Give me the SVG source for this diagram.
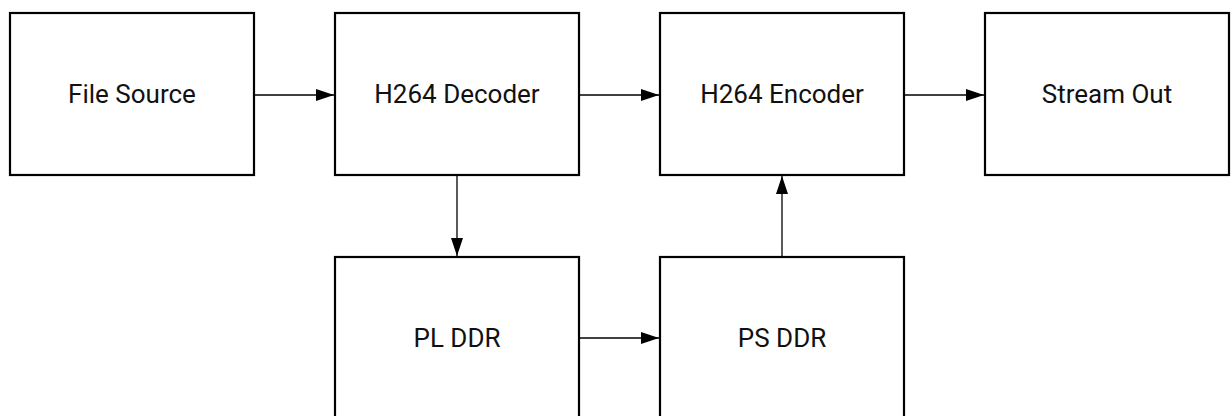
<svg xmlns="http://www.w3.org/2000/svg" width="1232" height="416" viewBox="0 0 1232 416">
<style>
.box{fill:#fff;stroke:#000;stroke-width:2.2}
.lbl{font-family:Roboto,"Liberation Sans",sans-serif;font-size:26px;fill:#111;text-anchor:middle;dominant-baseline:central}
.edge{stroke:#000;stroke-width:1.3;fill:none;marker-end:url(#ah)}
</style>
<defs>
<marker id="ah" viewBox="0 0 18 12" refX="18" refY="6" markerWidth="18" markerHeight="12" markerUnits="userSpaceOnUse" orient="auto">
<path d="M0,0 L18,6 L0,12 Z" fill="#000"/>
</marker>
</defs>
<rect width="1232" height="416" fill="#fff"/>
<g id="connectors">
<line class="edge" x1="254" y1="95" x2="334" y2="95"/>
<line class="edge" x1="579" y1="95" x2="659" y2="95"/>
<line class="edge" x1="904" y1="95" x2="984" y2="95"/>
<line class="edge" x1="457" y1="175" x2="457" y2="256"/>
<line class="edge" x1="579" y1="338" x2="659" y2="338"/>
<line class="edge" x1="782" y1="257" x2="782" y2="176"/>
</g>
<g id="file-source"><rect class="box" x="10" y="13" width="244" height="162"/><text class="lbl" x="132" y="94">File Source</text></g>
<g id="h264-decoder"><rect class="box" x="335" y="13" width="244" height="162"/><text class="lbl" x="457" y="94">H264 Decoder</text></g>
<g id="h264-encoder"><rect class="box" x="660" y="13" width="244" height="162"/><text class="lbl" x="782" y="94">H264 Encoder</text></g>
<g id="stream-out"><rect class="box" x="985" y="13" width="244" height="162"/><text class="lbl" x="1107" y="94">Stream Out</text></g>
<g id="pl-ddr"><rect class="box" x="335" y="257" width="244" height="170"/><text class="lbl" x="457" y="338">PL DDR</text></g>
<g id="ps-ddr"><rect class="box" x="660" y="257" width="244" height="170"/><text class="lbl" x="782" y="338">PS DDR</text></g>
</svg>
